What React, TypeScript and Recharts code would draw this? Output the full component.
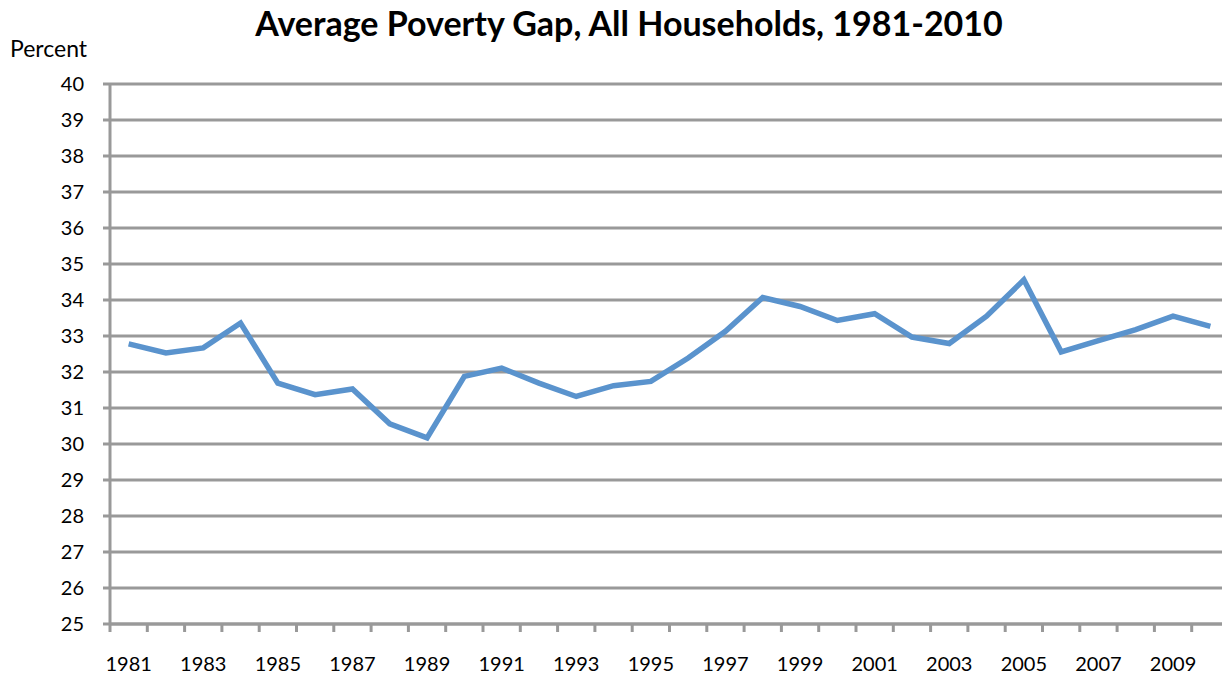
import React from 'react';
import { LineChart, Line, XAxis, YAxis, CartesianGrid } from 'recharts';

const years = [
  1981, 1982, 1983, 1984, 1985, 1986, 1987, 1988, 1989, 1990,
  1991, 1992, 1993, 1994, 1995, 1996, 1997, 1998, 1999, 2000,
  2001, 2002, 2003, 2004, 2005, 2006, 2007, 2008, 2009, 2010,
];
const gapPercent = [
  32.78, 32.53, 32.67, 33.36, 31.69, 31.37, 31.53, 30.56, 30.17, 31.88,
  32.11, 31.69, 31.32, 31.62, 31.74, 32.39, 33.13, 34.07, 33.82, 33.43,
  33.62, 32.97, 32.79, 33.55, 34.56, 32.56, 32.87, 33.18, 33.55, 33.27,
];
const yTicks = [25, 26, 27, 28, 29, 30, 31, 32, 33, 34, 35, 36, 37, 38, 39, 40];
const labelYears = [1981, 1983, 1985, 1987, 1989, 1991, 1993, 1995, 1997, 1999, 2001, 2003, 2005, 2007, 2009];
const boundaryTicks = [...years.map((y) => y - 0.5), 2010.5];
const xDomain = [1980.5, 2010.5];

const data = years.map((year, i) => ({ year, gap: gapPercent[i] }));

const GRAY = '#999999';
const FONT = 'Lato, "Open Sans", sans-serif';

export default function App() {
  return (
    <div style={{ position: 'absolute', left: 0, top: 0, width: 1222, height: 674, overflow: 'hidden', background: '#fff', fontFamily: FONT }}>
      <div style={{ position: 'absolute', left: 0, width: 1258, top: 1, textAlign: 'center', fontWeight: 700, fontSize: 34, color: '#000', lineHeight: '44px' }}>
        Average Poverty Gap, All Households, 1981-2010
      </div>
      <div style={{ position: 'absolute', left: 10, top: 34, fontSize: 23, color: '#000', lineHeight: '28px' }}>
        Percent
      </div>
      <LineChart width={1230} height={674} data={data} margin={{ top: 84, right: 1, bottom: 0, left: 0 }}>
        <CartesianGrid xAxisId="a" vertical={false} stroke={GRAY} strokeWidth={3} horizontalValues={yTicks} />
        <XAxis
          xAxisId="a"
          dataKey="year"
          type="number"
          domain={xDomain}
          ticks={boundaryTicks}
          interval={0}
          height={10}
          axisLine={{ stroke: GRAY, strokeWidth: 3 }}
          tickLine={{ stroke: GRAY, strokeWidth: 3 }}
          tickSize={8}
          tick={() => <g />}
        />
        <XAxis
          xAxisId="b"
          dataKey="year"
          type="number"
          domain={xDomain}
          ticks={labelYears}
          interval={0}
          height={40}
          axisLine={false}
          tickLine={false}
          tickSize={0}
          tickMargin={23}
          tick={{ fontSize: 20, fill: '#000', fontFamily: FONT }}
        />
        <YAxis
          type="number"
          domain={[25, 40]}
          ticks={yTicks}
          interval={0}
          width={110}
          axisLine={{ stroke: GRAY, strokeWidth: 3 }}
          tickLine={{ stroke: GRAY, strokeWidth: 3 }}
          tickSize={7}
          tickMargin={19}
          tick={{ fontSize: 20, fill: '#000', fontFamily: FONT }}
        />
        <Line
          xAxisId="a"
          type="linear"
          dataKey="gap"
          stroke="#5a93cd"
          strokeWidth={5.5}
          dot={false}
          activeDot={false}
          isAnimationActive={false}
        />
      </LineChart>
    </div>
  );
}
